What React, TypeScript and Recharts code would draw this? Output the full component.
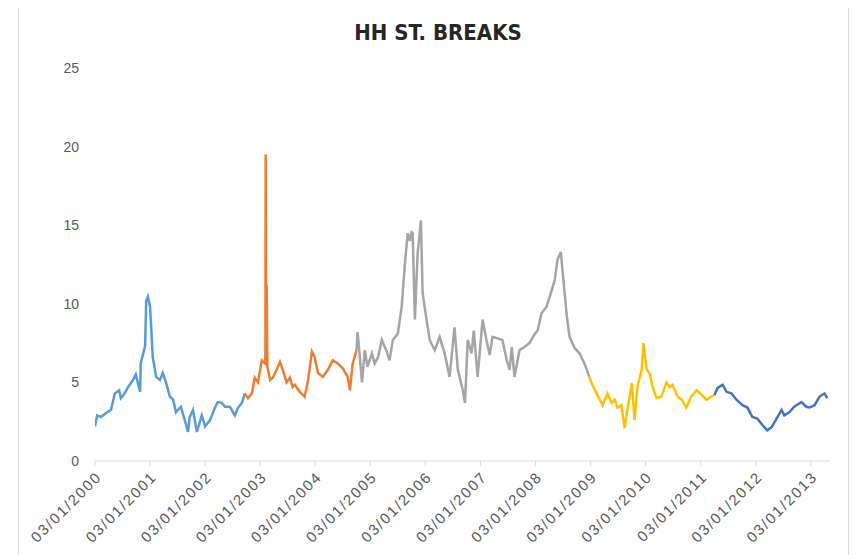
import React from 'react';
import { LineChart, Line, XAxis, YAxis } from 'recharts';

// x = years since 03/01/2000, y = price
type Pt = [number, number];

const blueSeg: Pt[] = [
  [0.0, 2.2], [0.04, 2.9], [0.11, 2.8], [0.2, 3.05], [0.29, 3.25], [0.36, 4.3], [0.44, 4.5],
  [0.47, 4.0], [0.54, 4.3], [0.6, 4.7], [0.69, 5.15], [0.74, 5.5], [0.82, 4.4], [0.83, 6.2],
  [0.91, 7.3], [0.93, 10.2], [0.96, 10.45], [1.0, 9.8], [1.05, 6.6], [1.11, 5.35], [1.18, 5.15],
  [1.23, 5.6], [1.29, 5.0], [1.36, 4.1], [1.42, 3.9], [1.47, 3.1], [1.56, 3.45], [1.63, 2.6],
  [1.69, 1.85], [1.72, 2.8], [1.78, 3.25], [1.85, 1.85], [1.94, 2.9], [2.0, 2.2], [2.09, 2.6],
  [2.18, 3.4], [2.23, 3.75], [2.3, 3.7], [2.36, 3.45], [2.45, 3.45], [2.54, 2.9], [2.6, 3.4],
  [2.67, 3.7], [2.72, 4.3],
];

const orangeSeg: Pt[] = [
  [2.72, 4.3], [2.78, 4.0], [2.85, 4.3], [2.9, 5.3], [2.96, 5.0], [3.03, 6.4], [3.09, 6.2],
  [3.095, 6.8], [3.1, 19.5], [3.11, 8.0], [3.12, 11.2], [3.13, 6.0], [3.18, 5.15], [3.23, 5.3],
  [3.3, 5.8], [3.36, 6.3], [3.41, 5.8], [3.48, 5.0], [3.54, 5.3], [3.59, 4.7], [3.63, 4.85],
  [3.72, 4.4], [3.81, 4.1], [3.87, 5.15], [3.94, 6.95], [3.99, 6.6], [4.05, 5.6], [4.14, 5.35],
  [4.23, 5.8], [4.32, 6.4], [4.41, 6.2], [4.5, 5.9], [4.59, 5.35], [4.63, 4.5], [4.68, 6.2],
  [4.75, 7.05],
];

const graySeg: Pt[] = [
  [4.75, 7.05], [4.77, 8.2], [4.85, 5.0], [4.9, 7.05], [4.95, 6.0], [5.03, 6.85], [5.08, 6.2],
  [5.14, 6.6], [5.21, 7.7], [5.3, 6.95], [5.35, 6.4], [5.41, 7.7], [5.5, 8.1], [5.57, 9.8],
  [5.63, 12.6], [5.68, 14.5], [5.72, 14.0], [5.75, 14.55], [5.77, 14.5], [5.81, 9.0],
  [5.86, 13.2], [5.92, 15.3], [5.95, 10.7], [6.03, 8.8], [6.08, 7.7], [6.17, 7.05], [6.26, 7.9],
  [6.35, 6.85], [6.44, 5.35], [6.53, 8.5], [6.59, 5.8], [6.68, 4.5], [6.72, 3.7], [6.77, 7.7],
  [6.84, 6.85], [6.88, 8.3], [6.95, 5.35], [7.04, 9.0], [7.11, 7.7], [7.17, 6.75], [7.22, 7.9],
  [7.31, 7.8], [7.4, 7.7], [7.48, 6.4], [7.53, 5.8], [7.57, 7.25], [7.62, 5.35], [7.71, 7.05],
  [7.8, 7.25], [7.89, 7.5], [7.99, 8.1], [8.04, 8.3], [8.11, 9.4], [8.2, 9.8], [8.26, 10.45],
  [8.35, 11.5], [8.4, 12.8], [8.46, 13.3], [8.57, 9.2], [8.62, 7.9], [8.71, 7.2], [8.8, 6.85],
  [8.89, 6.2], [8.98, 5.35],
];

const goldSeg: Pt[] = [
  [8.98, 5.35], [9.02, 4.95], [9.11, 4.3], [9.22, 3.55], [9.31, 4.3], [9.38, 3.7], [9.44, 3.9],
  [9.49, 3.4], [9.56, 3.55], [9.62, 2.1], [9.67, 3.25], [9.75, 4.95], [9.8, 2.6], [9.85, 4.7],
  [9.93, 5.8], [9.96, 7.5], [10.02, 5.8], [10.07, 5.6], [10.13, 4.7], [10.2, 4.0], [10.29, 4.1],
  [10.38, 5.0], [10.44, 4.7], [10.49, 4.85], [10.58, 4.1], [10.66, 3.9], [10.74, 3.4],
  [10.83, 4.1], [10.93, 4.5], [11.11, 3.9], [11.2, 4.1], [11.25, 4.2],
];

const navySeg: Pt[] = [
  [11.25, 4.2], [11.31, 4.65], [11.4, 4.85], [11.47, 4.4], [11.56, 4.3], [11.65, 3.9],
  [11.76, 3.55], [11.85, 3.4], [11.94, 2.8], [12.03, 2.7], [12.12, 2.3], [12.21, 1.95],
  [12.29, 2.15], [12.38, 2.7], [12.47, 3.25], [12.52, 2.9], [12.61, 3.1], [12.7, 3.45],
  [12.83, 3.75], [12.92, 3.45], [12.98, 3.4], [13.07, 3.55], [13.16, 4.1], [13.25, 4.3],
  [13.3, 4.0],
];

const tickYears = [2000, 2001, 2002, 2003, 2004, 2005, 2006, 2007, 2008, 2009, 2010, 2011, 2012, 2013];
const yTicks = [0, 5, 10, 15, 20, 25];
const title = 'HH ST. BREAKS';

const segments = [
  { name: 'seg1', pts: blueSeg, color: '#5B9BD5' },
  { name: 'seg2', pts: orangeSeg, color: '#ED7D31' },
  { name: 'seg3', pts: graySeg, color: '#A5A5A5' },
  { name: 'seg4', pts: goldSeg, color: '#FFC000' },
  { name: 'seg5', pts: navySeg, color: '#4472C4' },
];

const xTicks = tickYears.map((y) => y - 2000);
const toRows = (pts: Pt[]) => pts.map(([t, v]) => ({ t, v }));

const XTick = (props: any) => {
  const { x, y, payload } = props;
  const label = `03/01/${tickYears[0] + payload.value}`;
  return (
    <g transform={`translate(${x + 4},${y + 6})`}>
      <text
        textAnchor="end"
        transform="rotate(-45)"
        dy="0.35em"
        fill="#595959"
        fontSize={15}
        letterSpacing={1.8}
        fontFamily="'Liberation Sans', Arial, sans-serif"
      >
        {label}
      </text>
    </g>
  );
};

export default function App() {
  return (
    <div style={{ position: 'relative', width: 844, height: 547 }}>
      <div
        style={{
          position: 'absolute',
          left: 10,
          top: -1,
          width: 831,
          height: 560,
          border: '1px solid #d9d9d9',
          boxSizing: 'border-box',
        }}
      />
      <div
        style={{
          position: 'absolute',
          left: 0,
          top: 12,
          width: 860,
          textAlign: 'center',
          fontFamily: "'Liberation Sans Narrow', 'DejaVu Sans Condensed', Arial, sans-serif",
          fontWeight: 'bold',
          fontSize: 22,
          color: '#262626',
        }}
      >
        {title}
      </div>
      <div style={{ position: 'absolute', left: 0, top: 0 }}>
        <LineChart width={844} height={547} margin={{ top: 60, right: 22, left: 27, bottom: 14 }}>
          <XAxis
            dataKey="t"
            type="number"
            domain={[0, 13.35]}
            ticks={xTicks}
            allowDataOverflow
            interval={0}
            stroke="#d9d9d9"
            tickSize={5}
            height={80}
            tick={<XTick />}
          />
          <YAxis
            type="number"
            domain={[0, 25]}
            ticks={yTicks}
            axisLine={false}
            tickLine={false}
            width={60}
            tickMargin={10}
            tick={{ fill: '#595959', fontSize: 14, fontFamily: "'Liberation Sans', Arial, sans-serif" }}
          />
          {segments.map((s) => (
            <Line
              key={s.name}
              data={toRows(s.pts)}
              dataKey="v"
              name={s.name}
              type="linear"
              stroke={s.color}
              strokeWidth={2.5}
              dot={false}
              activeDot={false}
              isAnimationActive={false}
            />
          ))}
        </LineChart>
      </div>
    </div>
  );
}
